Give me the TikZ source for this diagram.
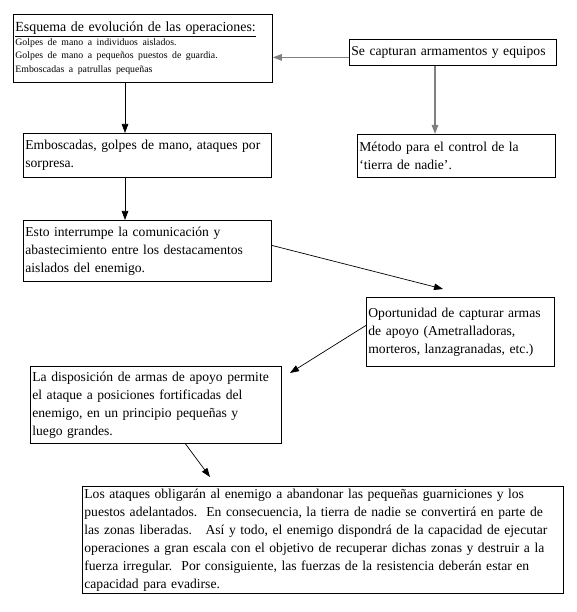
\documentclass[tikz,border=0pt]{standalone}
\usepackage{fontspec}
\setmainfont{Liberation Serif}
\usetikzlibrary{arrows.meta}
\tikzset{
  caja/.style={draw, line width=0.8pt, anchor=north west, align=left, inner sep=2pt,
    font=\fontsize{13.6}{18}\selectfont},
  flecha/.style={-{Triangle[length=9pt,width=6.5pt]}, line width=0.7pt},
  flechagris/.style={flecha, draw=gray, line width=1.2pt}
}
\begin{document}
\begin{tikzpicture}[x=1pt,y=-1pt]
  \useasboundingbox (0,0) rectangle (577,612);
  \node[caja, text width=255pt, minimum height=68pt] (plan) at (13,14)
    {{\fontsize{13.9}{18}\selectfont\underline{Esquema de evolución de las operaciones:}}\\
     \fontsize{9.8}{13.6}\selectfont Golpes de mano a individuos aislados.\\
     Golpes de mano a pequeños puestos de guardia.\\
     Emboscadas a patrullas pequeñas\par\vspace{9pt}};
  \node[caja, text width=203pt, minimum height=26pt] (captura) at (349,39)
    {Se capturan armamentos y equipos};
  \node[caja, text width=244pt, minimum height=44pt] (emboscadas) at (23,133)
    {Emboscadas, golpes de mano, ataques por\\ sorpresa.};
  \node[caja, text width=194pt, minimum height=43pt] (metodo) at (357,134)
    {Método para el control de la\\ ‘tierra de nadie’.};
  \node[caja, text width=244pt, minimum height=61pt] (interrumpe) at (23,220)
    {Esto interrumpe la comunicación y\\ abastecimiento entre los destacamentos\\ aislados del enemigo.};
  \node[caja, text width=184pt, minimum height=69pt] (oportunidad) at (366,297)
    {Oportunidad de capturar armas\\ de apoyo (Ametralladoras,\\ morteros, lanzagranadas, etc.)\par\vspace{12pt}};
  \node[caja, text width=247pt, minimum height=77pt] (disposicion) at (30,366)
    {\mbox{La disposición de armas de apoyo permite}\\ el ataque a posiciones fortificadas del\\ enemigo, en un principio pequeñas y\\ luego grandes.};
  \node[caja, text width=477pt, minimum height=107pt] (ataques) at (82,486)
    {Los ataques obligarán al enemigo a abandonar las pequeñas guarniciones y los\\
     \mbox{puestos adelantados.\ \ En consecuencia, la tierra de nadie se convertirá en parte de}\\
     \mbox{las zonas liberadas.\ \ \ Así y todo, el enemigo dispondrá de la capacidad de ejecutar}\\
     \mbox{operaciones a gran escala con el objetivo de recuperar dichas zonas y destruir a la}\\
     fuerza irregular.\ \ Por consiguiente, las fuerzas de la resistencia deberán estar en\\
     capacidad para evadirse.\par\vspace{10pt}};
  \coordinate (eje) at (125,0);
  \coordinate (eje2) at (435,0);
  \coordinate (puntaF) at (443,289);
  \coordinate (puntaG) at (290,373);
  \coordinate (puntaH) at (210,477);
  \draw[flechagris] ([yshift=-5pt]captura.west) -- ([yshift=-5pt]captura.west -| plan.east);
  \draw[flechagris] (captura.south -| eje2) -- (metodo.north -| eje2);
  \draw[flecha] (plan.south -| eje) -- (emboscadas.north -| eje);
  \draw[flecha] (emboscadas.south -| eje) -- (interrumpe.north -| eje);
  \draw[flecha] ([yshift=5.5pt]interrumpe.east) -- (puntaF);
  \draw[flecha] ([yshift=6.5pt]oportunidad.west) -- (puntaG);
  \draw[flecha] ([xshift=29.5pt]disposicion.south) -- (puntaH);
\end{tikzpicture}
\end{document}
